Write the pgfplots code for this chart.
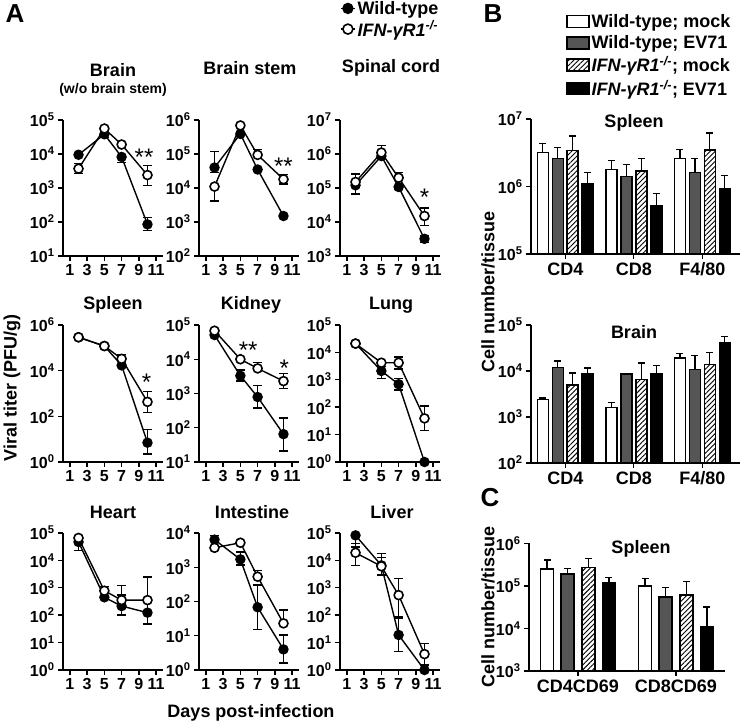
\documentclass[border=0pt]{standalone}
\usepackage{fontspec}
\setmainfont{Liberation Sans}
\usepackage{pgfplots}
\usepackage{pgfplotstable}
\pgfplotsset{compat=1.18}
\usetikzlibrary{patterns.meta}

\definecolor{dgray}{RGB}{85,85,85}
\newcommand{\tk}[1]{10\textsuperscript{#1}}
\newcommand{\ko}{\textit{IFN-γR1}\textsuperscript{\textit{-/-}}}
\newcommand{\fT}{\fontsize{16bp}{18bp}\selectfont\bfseries}
\newcommand{\fL}{\fontsize{18bp}{20bp}\selectfont\bfseries}
\newcommand{\fS}{\fontsize{24bp}{24bp}\selectfont}

% A: viral titer (PFU/g), wt = wild-type, ko = IFN-gR1-/-, lo/hi = error bar ends
\pgfplotstableread{
d  wt     wtlo   wthi   ko     kolo   kohi
2  9.5e3  9.5e3  9.5e3  3.7e3  2.7e3  5.3e3
5  3.8e4  3.0e4  3.8e4  5.6e4  5.6e4  5.6e4
7  8.2e3  5.6e3  8.2e3  1.9e4  1.9e4  1.9e4
10 85     57     135    2.4e3  1.2e3  4.6e3
}\tbrain
\pgfplotstableread{
d  wt     wtlo   wthi   ko     kolo   kohi
2  4.0e4  2.9e4  1.2e5  1.1e4  4.2e3  1.1e4
5  3.9e5  3.9e5  3.9e5  6.9e5  6.9e5  6.9e5
7  3.5e4  3.5e4  3.5e4  9.4e4  9.4e4  1.35e5
10 1.5e3  1.5e3  1.5e3  1.8e4  1.3e4  2.5e4
}\tstem
\pgfplotstableread{
d  wt     wtlo   wthi   ko     kolo   kohi
2  1.2e5  6.6e4  1.2e5  1.5e5  1.5e5  2.6e5
5  8.7e5  8.7e5  8.7e5  1.1e6  1.1e6  1.8e6
7  1.07e5 9e4    1.07e5 2.0e5  2.0e5  2.9e5
10 3.2e3  2.5e3  4.0e3  1.5e4  8e3    2.6e4
}\tspinal
\pgfplotstableread{
d  wt     wtlo   wthi   ko     kolo   kohi
2  2.9e5  2.9e5  2.9e5  2.9e5  2.9e5  2.9e5
5  1.2e5  1.2e5  1.2e5  1.2e5  1.2e5  1.2e5
7  1.7e4  1.7e4  1.7e4  3.3e4  3.3e4  5e4
10 7      2.2    26     430    150    1.2e3
}\tspleen
\pgfplotstableread{
d  wt     wtlo   wthi   ko     kolo   kohi
2  5.1e4  5.1e4  5.1e4  6.8e4  6.8e4  6.8e4
5  3.3e3  2.3e3  4.9e3  1e4    1e4    1e4
7  790    380    1.7e3  5.4e3  5.4e3  8e3
10 65     21     195    2.3e3  1.4e3  3.9e3
}\tkidney
\pgfplotstableread{
d  wt     wtlo   wthi   ko     kolo   kohi
2  2.1e4  2.1e4  2.1e4  2.1e4  2.1e4  2.1e4
5  2.1e3  1.1e3  3e3    4.2e3  4.2e3  4.2e3
7  690    430    1.1e3  4.2e3  2.5e3  6.9e3
10 1      1      1      39     14     112
}\tlung
\pgfplotstableread{
d  wt     wtlo   wthi   ko     kolo   kohi
2  4.7e4  2.3e4  4.7e4  6.6e4  6.6e4  6.6e4
5  450    450    450    780    780    1.1e3
7  215    100    540    355    355    1.2e3
10 124    47     310    355    355    2.5e3
}\theart
\pgfplotstableread{
d  wt     wtlo   wthi   ko     kolo   kohi
2  6.4e3  6.4e3  8.5e3  3.7e3  3.7e3  3.7e3
5  1.7e3  1.15e3 2.8e3  5.2e3  5.2e3  5.2e3
7  68     15     300    530    530    810
10 4      1.6    10.5   23     23     56
}\tintestine
\pgfplotstableread{
d  wt     wtlo   wthi   ko     kolo   kohi
2  8.2e4  3.1e4  8.2e4  1.9e4  6.6e3  4.1e4
5  6.6e3  2.9e3  1.8e4  6.1e3  6.1e3  1.3e4
7  19     4.7    76     540    87     2.2e3
10 1      1      1      3.8    1.5    9.3
}\tliver

% B/C: cell number/tissue; wm/we = wild-type mock/EV71, km/ke = IFN-gR1-/- mock/EV71
\pgfplotstableread{
g wm     wmhi    we     wehi    km     kmhi    ke     kehi
1 3.2e6  4.3e6   2.6e6  3.8e6   3.4e6  5.6e6   1.1e6  1.6e6
2 1.8e6  2.45e6  1.4e6  2.1e6   1.7e6  2.6e6   5.1e5  7.9e5
3 2.6e6  3.5e6   1.6e6  2.6e6   3.5e6  6.2e6   9.3e5  1.45e6
}\tbspl
\pgfplotstableread{
g wm     wmhi    we     wehi    km     kmhi    ke     kehi
1 2.4e3  2.6e3   1.2e4  1.65e4  4.9e3  9.1e3   8.5e3  1.17e4
2 1.6e3  2.05e3  8.5e3  8.9e3   6.6e3  1.5e4   8.5e3  1.3e4
3 1.9e4  2.4e4   1.07e4 2.2e4   1.4e4  2.5e4   4.1e4  5.6e4
}\tbbrain
\pgfplotstableread{
g wm     wmhi    we     wehi    km     kmhi    ke     kehi
1 2.5e5  4.1e5   1.9e5  2.6e5   2.7e5  4.5e5   1.2e5  1.6e5
2 1e5    1.5e5   5.5e4  9.1e4   6.2e4  1.26e5  1.1e4  3.2e4
}\tcspl

\pgfplotsset{
  every axis/.append style={scale only axis, ymode=log, axis lines=left,
    axis line style={line width=1.6bp,-}, tick style={line width=1.4bp,black},
    tick align=outside, major tick length=5bp, yminorticks=false,
    ticklabel style={font=\fT}, clip=false, anchor=south west},
}
\tikzset{
  wtline/.style={black, line width=1.4bp, mark=*, mark size=4.5bp,
    mark options={fill=black}},
  koline/.style={black, line width=1.4bp, mark=*, mark size=4.5bp,
    mark options={fill=white,line width=1.6bp}},
  hatchfill/.style={fill=white, postaction={pattern={Lines[angle=45,distance=3.5bp,line width=0.9bp]}}},
}
% one series of panel A (#1 = wt or ko, #2 = its style, #3 = table)
\newcommand{\titer}[3]{\addplot[#2, /pgfplots/error bars/y dir=both, /pgfplots/error bars/y explicit,
  /pgfplots/error bars/error bar style={line width=1.4bp},
  /pgfplots/error bars/error mark options={rotate=90,mark size=4.5bp,line width=1.4bp}]
  table[x=d, y=#1, y error plus expr=\thisrow{#1hi}-\thisrow{#1}, y error minus expr=\thisrow{#1}-\thisrow{#1lo}] {#3};}
% one bar series of panels B/C (#1 width, #2 offset from group centre, #3 fill, #4 column, #5 table)
\newcommand{\cells}[5]{\addplot[ybar, bar width=#1, bar shift=0pt, draw=black, line width=1.5bp, forget plot, #3,
  /pgfplots/error bars/y dir=plus, /pgfplots/error bars/y explicit,
  /pgfplots/error bars/error bar style={line width=1.4bp,black,solid},
  /pgfplots/error bars/error mark options={rotate=90,mark size=3.5bp,line width=1.4bp,black}]
  table[x expr=\thisrow{g}+#2, y=#4, y error plus expr=\thisrow{#4hi}-\thisrow{#4}] {#5};}

\begin{document}
\begin{tikzpicture}[x=1bp,y=1bp]
\useasboundingbox (0bp,0bp) rectangle (742bp,723bp);

% ---------- A, top row ----------
\begin{axis}[at={(63bp,467bp)}, width=100bp, height=136bp,
  xmin=0.2, xmax=11.8, xtick={1,3,5,7,9,11}, xticklabels={1,3,5,7,9,11},
  ymin=1e1, ymax=1e5, ytick={1e1,1e2,1e3,1e4,1e5}, yticklabels={\tk1,\tk2,\tk3,\tk4,\tk5}]
\titer{wt}{wtline}{\tbrain}
\titer{ko}{koline}{\tbrain}
\node[font=\fS, anchor=base, yshift=-13bp] at (axis cs:9.6,1.1e4) {**};
\end{axis}
\begin{axis}[at={(199bp,467bp)}, width=100bp, height=136bp,
  xmin=0.2, xmax=11.8, xtick={1,3,5,7,9,11}, xticklabels={1,3,5,7,9,11},
  ymin=1e2, ymax=1e6, ytick={1e2,1e3,1e4,1e5,1e6}, yticklabels={\tk2,\tk3,\tk4,\tk5,\tk6}]
\titer{wt}{wtline}{\tstem}
\titer{ko}{koline}{\tstem}
\node[font=\fS, anchor=base, yshift=-13bp] at (axis cs:10.0,6e4) {**};
\end{axis}
\begin{axis}[at={(340bp,467bp)}, width=100bp, height=136bp,
  xmin=0.2, xmax=11.8, xtick={1,3,5,7,9,11}, xticklabels={1,3,5,7,9,11},
  ymin=1e3, ymax=1e7, ytick={1e3,1e4,1e5,1e6,1e7}, yticklabels={\tk3,\tk4,\tk5,\tk6,\tk7},
  legend style={at={(0.0,1.89)}, anchor=north west, draw=none, fill=none,
    font=\fL, inner sep=0pt, row sep=1bp, cells={anchor=west}},
  legend image code/.code={\path (0bp,0bp) -- (14bp,0bp); \draw[#1, mark size=5bp] plot coordinates {(7bp,0bp)};}]
\addlegendimage{wtline}
\addlegendentry{Wild-type}
\addlegendimage{koline}
\addlegendentry{\ko}
\titer{wt}{wtline, forget plot}{\tspinal}
\titer{ko}{koline, forget plot}{\tspinal}
\node[font=\fS, anchor=base, yshift=-13bp] at (axis cs:10.0,7.6e4) {*};
\end{axis}

% ---------- A, middle row ----------
\begin{axis}[at={(63bp,261bp)}, width=100bp, height=137bp,
  xmin=0.2, xmax=11.8, xtick={1,3,5,7,9,11}, xticklabels={1,3,5,7,9,11},
  ymin=1e0, ymax=1e6, ytick={1e0,1e2,1e4,1e6}, yticklabels={\tk0,\tk2,\tk4,\tk6}]
\titer{wt}{wtline}{\tspleen}
\titer{ko}{koline}{\tspleen}
\node[font=\fS, anchor=base, yshift=-13bp] at (axis cs:9.9,4.8e3) {*};
\end{axis}
\begin{axis}[at={(199bp,261bp)}, width=100bp, height=137bp,
  xmin=0.2, xmax=11.8, xtick={1,3,5,7,9,11}, xticklabels={1,3,5,7,9,11},
  ymin=1e1, ymax=1e5, ytick={1e1,1e2,1e3,1e4,1e5}, yticklabels={\tk1,\tk2,\tk3,\tk4,\tk5}]
\titer{wt}{wtline}{\tkidney}
\titer{ko}{koline}{\tkidney}
\node[font=\fS, anchor=base, yshift=-13bp] at (axis cs:5.9,2.6e4) {**};
\node[font=\fS, anchor=base, yshift=-13bp] at (axis cs:10.1,7.7e3) {*};
\end{axis}
\begin{axis}[at={(340bp,261bp)}, width=100bp, height=137bp,
  xmin=0.2, xmax=11.8, xtick={1,3,5,7,9,11}, xticklabels={1,3,5,7,9,11},
  ymin=1e0, ymax=1e5, ytick={1e0,1e1,1e2,1e3,1e4,1e5}, yticklabels={\tk0,\tk1,\tk2,\tk3,\tk4,\tk5}]
\titer{wt}{wtline}{\tlung}
\titer{ko}{koline}{\tlung}
\end{axis}

% ---------- A, bottom row ----------
\begin{axis}[at={(63bp,53bp)}, width=100bp, height=137bp,
  xmin=0.2, xmax=11.8, xtick={1,3,5,7,9,11}, xticklabels={1,3,5,7,9,11},
  ymin=1e0, ymax=1e5, ytick={1e0,1e1,1e2,1e3,1e4,1e5}, yticklabels={\tk0,\tk1,\tk2,\tk3,\tk4,\tk5}]
\titer{wt}{wtline}{\theart}
\titer{ko}{koline}{\theart}
\end{axis}
\begin{axis}[at={(199bp,53bp)}, width=100bp, height=137bp,
  xmin=0.2, xmax=11.8, xtick={1,3,5,7,9,11}, xticklabels={1,3,5,7,9,11},
  ymin=1e0, ymax=1e4, ytick={1e0,1e1,1e2,1e3,1e4}, yticklabels={\tk0,\tk1,\tk2,\tk3,\tk4}]
\titer{wt}{wtline}{\tintestine}
\titer{ko}{koline}{\tintestine}
\end{axis}
\begin{axis}[at={(340bp,53bp)}, width=100bp, height=137bp,
  xmin=0.2, xmax=11.8, xtick={1,3,5,7,9,11}, xticklabels={1,3,5,7,9,11},
  ymin=1e0, ymax=1e5, ytick={1e0,1e1,1e2,1e3,1e4,1e5}, yticklabels={\tk0,\tk1,\tk2,\tk3,\tk4,\tk5}]
\titer{wt}{wtline}{\tliver}
\titer{ko}{koline}{\tliver}
\end{axis}

% ---------- B, spleen ----------
\begin{axis}[at={(531bp,469bp)}, width=209bp, height=135bp, log origin=infty,
  xmin=0.5, xmax=3.55, xtick={1,2,3}, xticklabels={CD4,CD8,F4/80}, xticklabel style={font=\fL},
  ymin=1e5, ymax=1e7, ytick={1e5,1e6,1e7}, yticklabels={\tk5,\tk6,\tk7},
  legend style={at={(0.1675,1.79)}, anchor=north west, draw=none, fill=none,
    font=\fL, inner sep=0pt, row sep=2.5bp, cells={anchor=west}},
  legend image code/.code={\draw[#1, line width=1.4bp] (0bp,-6bp) rectangle (22bp,6bp);}]
\addlegendimage{fill=white}\addlegendentry{Wild-type; mock}
\addlegendimage{fill=dgray}\addlegendentry{Wild-type; EV71}
\addlegendimage{hatchfill}\addlegendentry{\ko; mock}
\addlegendimage{fill=black}\addlegendentry{\ko; EV71}
\cells{11bp}{-0.328}{fill=white}{wm}{\tbspl}
\cells{11bp}{-0.109}{fill=dgray}{we}{\tbspl}
\cells{11bp}{0.109}{hatchfill}{km}{\tbspl}
\cells{11bp}{0.328}{fill=black}{ke}{\tbspl}
\end{axis}

% ---------- B, brain ----------
\begin{axis}[at={(531bp,260bp)}, width=209bp, height=138bp, log origin=infty,
  xmin=0.5, xmax=3.55, xtick={1,2,3}, xticklabels={CD4,CD8,F4/80}, xticklabel style={font=\fL},
  ymin=1e2, ymax=1e5, ytick={1e2,1e3,1e4,1e5}, yticklabels={\tk2,\tk3,\tk4,\tk5}]
\cells{11bp}{-0.328}{fill=white}{wm}{\tbbrain}
\cells{11bp}{-0.109}{fill=dgray}{we}{\tbbrain}
\cells{11bp}{0.109}{hatchfill}{km}{\tbbrain}
\cells{11bp}{0.328}{fill=black}{ke}{\tbbrain}
\end{axis}

% ---------- C, spleen ----------
\begin{axis}[at={(529bp,52bp)}, width=196bp, height=127.5bp, log origin=infty,
  xmin=0.5, xmax=2.5, xtick={1,2}, xticklabels={CD4CD69,CD8CD69}, xticklabel style={font=\fL},
  ymin=1e3, ymax=1e6, ytick={1e3,1e4,1e5,1e6}, yticklabels={\tk3,\tk4,\tk5,\tk6}]
\cells{13bp}{-0.315}{fill=white}{wm}{\tcspl}
\cells{13bp}{-0.105}{fill=dgray}{we}{\tcspl}
\cells{13bp}{0.105}{hatchfill}{km}{\tcspl}
\cells{13bp}{0.315}{fill=black}{ke}{\tcspl}
\end{axis}

% ---------- titles and labels ----------
\node[font=\fontsize{26bp}{26bp}\selectfont\bfseries] at (15bp,709bp) {A};
\node[font=\fontsize{26bp}{26bp}\selectfont\bfseries] at (493bp,709bp) {B};
\node[font=\fontsize{26bp}{26bp}\selectfont\bfseries] at (490bp,225bp) {C};
\node[font=\fL] at (113bp,653bp) {Brain};
\node[font=\fontsize{14bp}{16bp}\selectfont\bfseries] at (113bp,633bp) {(w/o brain stem)};
\node[font=\fL] at (250bp,655bp) {Brain stem};
\node[font=\fL] at (391bp,655bp) {Spinal cord};
\node[font=\fL] at (113bp,418bp) {Spleen};
\node[font=\fL] at (251bp,418bp) {Kidney};
\node[font=\fL] at (391bp,418bp) {Lung};
\node[font=\fL] at (113bp,211bp) {Heart};
\node[font=\fL] at (252bp,211bp) {Intestine};
\node[font=\fL] at (392bp,211bp) {Liver};
\node[font=\fL] at (634bp,600bp) {Spleen};
\node[font=\fL] at (634bp,391bp) {Brain};
\node[font=\fL] at (641bp,174bp) {Spleen};
\node[font=\fL, rotate=90] at (12bp,335bp) {Viral titer (PFU/g)};
\node[font=\fL] at (251bp,10bp) {Days post-infection};
\node[font=\fL, rotate=90] at (488bp,431bp) {Cell number/tissue};
\node[font=\fL, rotate=90] at (488bp,116bp) {Cell number/tissue};
\end{tikzpicture}
\end{document}
